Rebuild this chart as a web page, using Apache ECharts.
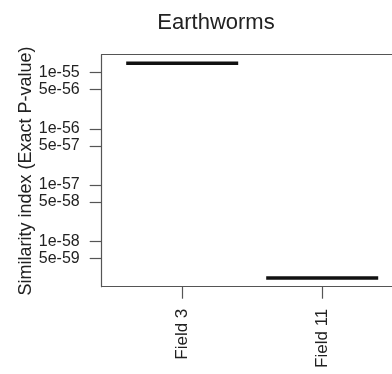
<!DOCTYPE html>
<html>
<head>
<meta charset="utf-8">
<script src="https://cdn.jsdelivr.net/npm/echarts@6/dist/echarts.min.js"></script>
<style>html,body{margin:0;padding:0;background:#fff}#c{width:392px;height:374px}</style>
</head>
<body>
<div id="c"></div>
<script>
var title = 'Earthworms';
var yTitle = 'Similarity index (Exact P-value)';
var categories = ['Field 3', 'Field 11'];
var values = [1.47e-55, 2.21e-59];
var yTickValues = [1e-55, 5e-56, 1e-56, 5e-57, 1e-57, 5e-58, 1e-58, 5e-59];
var yTickLabels = ['1e-55', '5e-56', '1e-56', '5e-57', '1e-57', '5e-58', '1e-58', '5e-59'];
var yMin = 1.55e-59, yMax = 2.09e-55;
var xMin = 0.425, xMax = 2.4986;

var font = '"Liberation Sans", Arial, sans-serif';
var logT = yTickValues.map(function (v) { return Math.log10(v); });
var labelMap = {};
logT.forEach(function (t, i) { labelMap[t.toFixed(6)] = yTickLabels[i]; });
var catPos = categories.map(function (c, i) { return i + 1; });
var catMap = {};
catPos.forEach(function (p, i) { catMap[p] = categories[i]; });
var lineCol = '#555';

var chart = echarts.init(document.getElementById('c'), null, { renderer: 'canvas' });
chart.setOption({
  animation: false,
  backgroundColor: '#fff',
  grid: { left: 101.7, top: 54.7, right: 0, bottom: 87.3, show: false },
  xAxis: [{
    type: 'value', min: xMin, max: xMax,
    axisLine: { show: true, onZero: false, lineStyle: { color: lineCol, width: 1.2 } },
    splitLine: { show: false },
    axisTick: { show: true, length: 12, customValues: catPos, lineStyle: { color: lineCol, width: 1.2 } },
    axisLabel: { show: true, customValues: catPos, rotate: 90, margin: 22, fontSize: 17, color: '#222', fontFamily: font,
      formatter: function (v) { return catMap[Math.round(v)] || ''; } }
  }, {
    type: 'value', position: 'top', min: xMin, max: xMax,
    axisLine: { show: true, onZero: false, lineStyle: { color: lineCol, width: 1.2 } },
    splitLine: { show: false }, axisTick: { show: false }, axisLabel: { show: false }
  }],
  yAxis: {
    type: 'value', min: Math.log10(yMin), max: Math.log10(yMax),
    axisLine: { show: true, onZero: false, lineStyle: { color: lineCol, width: 1.2 } },
    splitLine: { show: false },
    axisTick: { show: true, length: 12, customValues: logT, lineStyle: { color: lineCol, width: 1.2 } },
    axisLabel: { show: true, customValues: logT, margin: 22, fontSize: 16, color: '#222', fontFamily: font,
      formatter: function (v) { return labelMap[Number(v).toFixed(6)] || ''; } }
  },
  series: [{
    type: 'custom',
    xAxisIndex: 0,
    data: values.map(function (v, i) { return [catPos[i], Math.log10(v)]; }),
    renderItem: function (params, api) {
      var p = api.coord([api.value(0), api.value(1)]);
      var w = api.size([0.8, 0])[0];
      return { type: 'line', shape: { x1: p[0] - w / 2, y1: p[1], x2: p[0] + w / 2, y2: p[1] },
        style: { stroke: '#111', lineWidth: 3.6 } };
    }
  }],
  graphic: [
    { type: 'text', x: 216, y: 23, style: { text: title, font: '22px ' + font, fill: '#222', textAlign: 'center', textVerticalAlign: 'middle' } },
    { type: 'text', x: 26.5, y: 171, rotation: Math.PI / 2, style: { text: yTitle, font: '18px ' + font, fill: '#222', textAlign: 'center', textVerticalAlign: 'middle' } }
  ]
});
</script>
</body>
</html>
